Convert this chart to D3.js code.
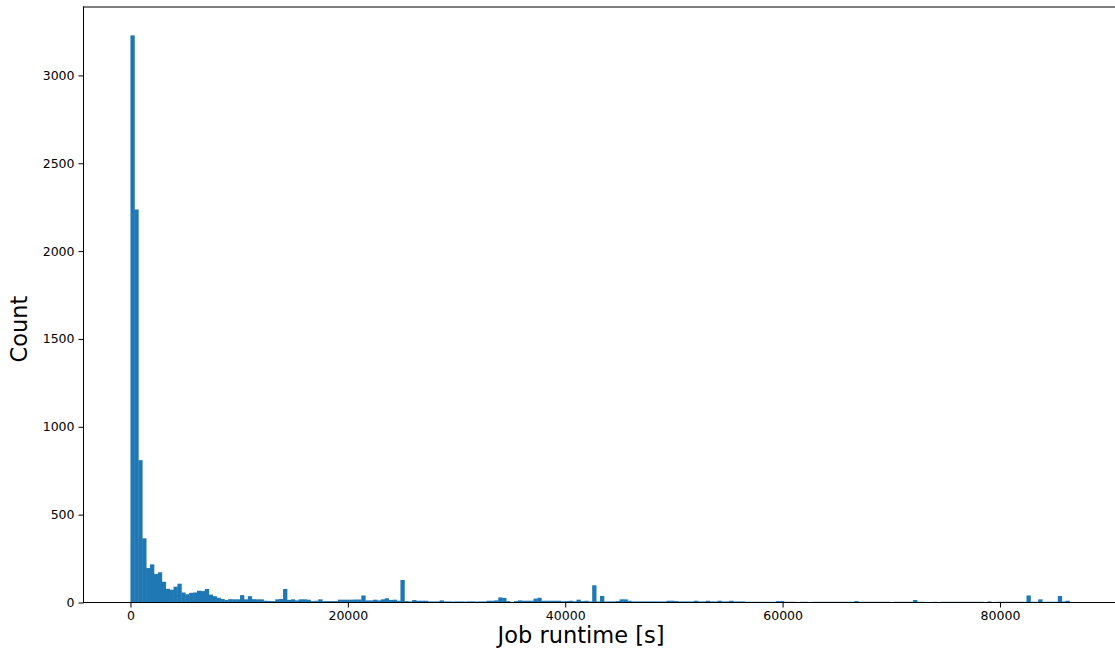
<!DOCTYPE html>
<html lang="en">
<head>
	<meta charset="UTF-8">
	<title>Job runtime histogram</title>
	<script type="text/javascript" src="https://cdn.jsdelivr.net/npm/d3@7"></script>
</head>
<style>
	body { margin: 0; background: #fff; }
	text { font-family: "DejaVu Sans", sans-serif; fill: #000; }
</style>
<body>
	<script type="text/javascript">
		var width = 1115;
		var height = 651;

		// histogram: 240 bins of 360 s, counts
		var binWidth = 360;
		var counts = [
			3228, 2237, 810, 365, 196, 217, 162, 172, 118, 78,
			73, 90, 107, 57, 47, 55, 57, 67, 65, 77,
			45, 36, 27, 20, 14, 19, 18, 18, 42, 18,
			36, 19, 18, 18, 10, 9, 8, 18, 20, 77,
			15, 18, 12, 18, 18, 16, 8, 10, 18, 8,
			8, 8, 8, 16, 16, 16, 16, 17, 17, 40,
			12, 12, 16, 12, 18, 24, 14, 16, 10, 128,
			8, 6, 14, 10, 10, 10, 6, 6, 6, 12,
			6, 6, 5, 6, 6, 5, 6, 6, 5, 6,
			6, 10, 10, 12, 29, 26, 8, 1, 8, 12,
			10, 10, 10, 22, 27, 10, 10, 10, 10, 10,
			7, 8, 10, 7, 16, 8, 10, 6, 98, 6,
			37, 6, 6, 6, 8, 18, 18, 10, 6, 6,
			6, 6, 6, 6, 6, 6, 6, 10, 10, 8,
			6, 6, 6, 6, 10, 6, 6, 10, 6, 6,
			10, 6, 6, 10, 6, 6, 6, 4, 4, 4,
			4, 4, 4, 4, 4, 8, 8, 4, 4, 4,
			0, 4, 4, 0, 4, 4, 4, 4, 4, 4,
			4, 4, 4, 4, 4, 8, 4, 4, 4, 4,
			4, 4, 4, 4, 0, 4, 4, 4, 4, 4,
			14, 4, 4, 2, 0, 4, 0, 4, 4, 4,
			4, 4, 4, 4, 4, 4, 4, 4, 0, 6,
			0, 4, 4, 4, 4, 4, 4, 4, 4, 40,
			4, 4, 18, 4, 4, 4, 4, 37, 6, 10
		];
		var xTicks = [0, 20000, 40000, 60000, 80000];
		var yTicks = [0, 500, 1000, 1500, 2000, 2500, 3000];
		var xLabel = 'Job runtime [s]';
		var yLabel = 'Count';

		// plot frame (right edge falls just outside the picture)
		var pLeft = 83.5, pRight = 1116.5, pTop = 7, pBottom = 602.5;

		var bins = counts.map(function(c, i){
			return {x0: i*binWidth, x1: (i+1)*binWidth, n: c};
		});
		var xMax = bins[bins.length-1].x1;
		var pad = xMax*0.05;

		var x = d3.scaleLinear()
				  .domain([-pad, xMax + pad])
				  .range([pLeft, pRight]);
		var y = d3.scaleLinear()
				  .domain([0, d3.max(counts)*1.05])
				  .range([pBottom, pTop]);

		var svg = d3.select('body')
					.append('svg')
					.attr('width', width)
					.attr('height', height)

		// bars overlap a hair so no white seams show between them
		svg.selectAll('rect.bar')
		   .data(bins.filter(function(d){ return d.n > 0; }))
		   .enter()
		   .append('rect')
		   .attr('class', 'bar')
		   .attr('x', function(d){ return x(d.x0); })
		   .attr('width', function(d){ return x(d.x1) - x(d.x0) + 0.4; })
		   .attr('y', function(d){ return y(d.n); })
		   .attr('height', function(d){ return pBottom - y(d.n); })
		   .attr('fill', '#1f77b4')

		// axes
		var xAxis = d3.axisBottom(x)
					  .tickValues(xTicks)
					  .tickFormat(d3.format('d'))
					  .tickSize(5)
					  .tickPadding(4);
		var yAxis = d3.axisLeft(y)
					  .tickValues(yTicks)
					  .tickFormat(d3.format('d'))
					  .tickSize(5)
					  .tickPadding(4);

		svg.append('g')
		   .attr('transform', 'translate(0,' + pBottom + ')')
		   .call(xAxis)
		   .call(function(g){
		   		g.select('.domain').remove();
		   		g.selectAll('text').style('font-size', '12.5px').attr('font-family', null);
		   });

		svg.append('g')
		   .attr('transform', 'translate(' + pLeft + ',0)')
		   .call(yAxis)
		   .call(function(g){
		   		g.select('.domain').remove();
		   		g.selectAll('text').style('font-size', '12.5px').attr('font-family', null);
		   });

		// spines
		var spines = [
			[pLeft, pTop, pRight, pTop],
			[pLeft, pBottom, pRight, pBottom],
			[pLeft, pTop, pLeft, pBottom],
			[pRight, pTop, pRight, pBottom]
		];
		svg.selectAll('line.spine')
		   .data(spines)
		   .enter()
		   .append('line')
		   .attr('class', 'spine')
		   .attr('x1', function(d){ return d[0]; })
		   .attr('y1', function(d){ return d[1]; })
		   .attr('x2', function(d){ return d[2]; })
		   .attr('y2', function(d){ return d[3]; })
		   .attr('stroke', '#000')
		   .attr('stroke-linecap', 'square');

		svg.append('text')
		   .attr('x', 581)
		   .attr('y', 643)
		   .attr('text-anchor', 'middle')
		   .style('font-size', '22.5px')
		   .text(xLabel);

		svg.append('text')
		   .attr('transform', 'translate(27,329) rotate(-90)')
		   .attr('text-anchor', 'middle')
		   .style('font-size', '22.5px')
		   .text(yLabel);
	</script>
</body>
</html>
